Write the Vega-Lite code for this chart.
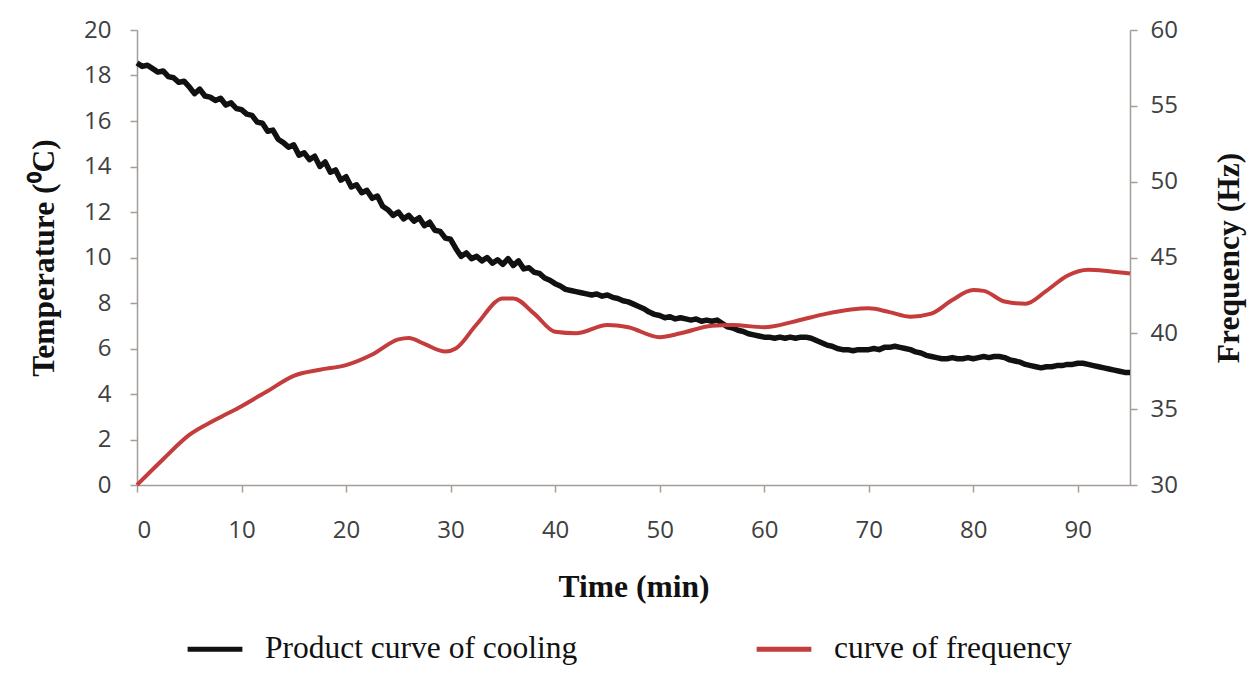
{
  "$schema": "https://vega.github.io/schema/vega-lite/v6.json",
  "autosize": {"type": "none"},
  "padding": {"left": 137, "top": 30, "right": 128, "bottom": 204},
  "width": 993,
  "height": 455,
  "background": "white",
  "config": {
    "view": {"stroke": null},
    "axis": {
      "grid": false,
      "domainColor": "#a59d98",
      "tickColor": "#a59d98",
      "domainWidth": 1.5,
      "tickWidth": 1.5,
      "tickSize": 7,
      "labelFont": "Open Sans",
      "labelFontSize": 24,
      "labelColor": "#404040",
      "titleFont": "Liberation Serif",
      "titleFontSize": 31.5,
      "titleFontWeight": "bold",
      "titleColor": "#111111"
    }
  },
  "datasets": {
    "temp": [
      {"time":0,"temperature":18.55},{"time":0.5,"temperature":18.4},{"time":1,"temperature":18.45},{"time":1.5,"temperature":18.3},{"time":2,"temperature":18.15},{"time":2.5,"temperature":18.2},{"time":3,"temperature":17.95},{"time":3.5,"temperature":17.9},{"time":4,"temperature":17.7},{"time":4.5,"temperature":17.75},{"time":5,"temperature":17.5},{"time":5.5,"temperature":17.2},{"time":6,"temperature":17.4},{"time":6.5,"temperature":17.1},{"time":7,"temperature":17.05},{"time":7.5,"temperature":16.9},{"time":8,"temperature":17.0},{"time":8.5,"temperature":16.7},{"time":9,"temperature":16.8},{"time":9.5,"temperature":16.55},{"time":10,"temperature":16.5},{"time":10.5,"temperature":16.3},{"time":11,"temperature":16.25},{"time":11.5,"temperature":15.95},{"time":12,"temperature":15.9},{"time":12.5,"temperature":15.55},{"time":13,"temperature":15.6},{"time":13.5,"temperature":15.2},{"time":14,"temperature":15.05},{"time":14.5,"temperature":14.85},{"time":15,"temperature":14.95},{"time":15.5,"temperature":14.5},{"time":16,"temperature":14.6},{"time":16.5,"temperature":14.3},{"time":17,"temperature":14.45},{"time":17.5,"temperature":14.0},{"time":18,"temperature":14.2},{"time":18.5,"temperature":13.75},{"time":19,"temperature":13.85},{"time":19.5,"temperature":13.4},{"time":20,"temperature":13.55},{"time":20.5,"temperature":13.1},{"time":21,"temperature":13.2},{"time":21.5,"temperature":12.85},{"time":22,"temperature":12.95},{"time":22.5,"temperature":12.6},{"time":23,"temperature":12.7},{"time":23.5,"temperature":12.25},{"time":24,"temperature":12.1},{"time":24.5,"temperature":11.85},{"time":25,"temperature":12.0},{"time":25.5,"temperature":11.7},{"time":26,"temperature":11.85},{"time":26.5,"temperature":11.6},{"time":27,"temperature":11.75},{"time":27.5,"temperature":11.4},{"time":28,"temperature":11.55},{"time":28.5,"temperature":11.2},{"time":29,"temperature":11.15},{"time":29.5,"temperature":10.85},{"time":30,"temperature":10.8},{"time":30.5,"temperature":10.4},{"time":31,"temperature":10.05},{"time":31.5,"temperature":10.2},{"time":32,"temperature":9.95},{"time":32.5,"temperature":10.05},{"time":33,"temperature":9.85},{"time":33.5,"temperature":10.0},{"time":34,"temperature":9.75},{"time":34.5,"temperature":9.9},{"time":35,"temperature":9.7},{"time":35.5,"temperature":9.95},{"time":36,"temperature":9.65},{"time":36.5,"temperature":9.85},{"time":37,"temperature":9.5},{"time":37.5,"temperature":9.55},{"time":38,"temperature":9.35},{"time":38.5,"temperature":9.3},{"time":39,"temperature":9.1},{"time":39.5,"temperature":9.0},{"time":40,"temperature":8.85},{"time":40.5,"temperature":8.75},{"time":41,"temperature":8.6},{"time":41.5,"temperature":8.55},{"time":42,"temperature":8.5},{"time":42.5,"temperature":8.45},{"time":43,"temperature":8.4},{"time":43.5,"temperature":8.35},{"time":44,"temperature":8.4},{"time":44.5,"temperature":8.3},{"time":45,"temperature":8.35},{"time":45.5,"temperature":8.25},{"time":46,"temperature":8.2},{"time":46.5,"temperature":8.1},{"time":47,"temperature":8.05},{"time":47.5,"temperature":7.95},{"time":48,"temperature":7.85},{"time":48.5,"temperature":7.75},{"time":49,"temperature":7.6},{"time":49.5,"temperature":7.5},{"time":50,"temperature":7.45},{"time":50.5,"temperature":7.35},{"time":51,"temperature":7.4},{"time":51.5,"temperature":7.3},{"time":52,"temperature":7.35},{"time":52.5,"temperature":7.3},{"time":53,"temperature":7.25},{"time":53.5,"temperature":7.3},{"time":54,"temperature":7.2},{"time":54.5,"temperature":7.25},{"time":55,"temperature":7.2},{"time":55.5,"temperature":7.25},{"time":56,"temperature":7.1},{"time":56.5,"temperature":6.95},{"time":57,"temperature":6.9},{"time":57.5,"temperature":6.8},{"time":58,"temperature":6.75},{"time":58.5,"temperature":6.65},{"time":59,"temperature":6.6},{"time":59.5,"temperature":6.55},{"time":60,"temperature":6.5},{"time":60.5,"temperature":6.5},{"time":61,"temperature":6.45},{"time":61.5,"temperature":6.5},{"time":62,"temperature":6.45},{"time":62.5,"temperature":6.5},{"time":63,"temperature":6.45},{"time":63.5,"temperature":6.5},{"time":64,"temperature":6.5},{"time":64.5,"temperature":6.45},{"time":65,"temperature":6.35},{"time":65.5,"temperature":6.25},{"time":66,"temperature":6.15},{"time":66.5,"temperature":6.1},{"time":67,"temperature":6.0},{"time":67.5,"temperature":5.95},{"time":68,"temperature":5.95},{"time":68.5,"temperature":5.9},{"time":69,"temperature":5.95},{"time":69.5,"temperature":5.95},{"time":70,"temperature":5.95},{"time":70.5,"temperature":6.0},{"time":71,"temperature":5.95},{"time":71.5,"temperature":6.05},{"time":72,"temperature":6.05},{"time":72.5,"temperature":6.1},{"time":73,"temperature":6.05},{"time":73.5,"temperature":6.0},{"time":74,"temperature":5.95},{"time":74.5,"temperature":5.85},{"time":75,"temperature":5.8},{"time":75.5,"temperature":5.7},{"time":76,"temperature":5.65},{"time":76.5,"temperature":5.6},{"time":77,"temperature":5.55},{"time":77.5,"temperature":5.55},{"time":78,"temperature":5.6},{"time":78.5,"temperature":5.55},{"time":79,"temperature":5.55},{"time":79.5,"temperature":5.6},{"time":80,"temperature":5.55},{"time":80.5,"temperature":5.6},{"time":81,"temperature":5.65},{"time":81.5,"temperature":5.6},{"time":82,"temperature":5.65},{"time":82.5,"temperature":5.65},{"time":83,"temperature":5.6},{"time":83.5,"temperature":5.5},{"time":84,"temperature":5.45},{"time":84.5,"temperature":5.4},{"time":85,"temperature":5.3},{"time":85.5,"temperature":5.25},{"time":86,"temperature":5.2},{"time":86.5,"temperature":5.15},{"time":87,"temperature":5.2},{"time":87.5,"temperature":5.2},{"time":88,"temperature":5.25},{"time":88.5,"temperature":5.25},{"time":89,"temperature":5.3},{"time":89.5,"temperature":5.3},{"time":90,"temperature":5.35},{"time":90.5,"temperature":5.35},{"time":91,"temperature":5.3},{"time":91.5,"temperature":5.25},{"time":92,"temperature":5.2},{"time":92.5,"temperature":5.15},{"time":93,"temperature":5.1},{"time":93.5,"temperature":5.05},{"time":94,"temperature":5.0},{"time":94.5,"temperature":4.95},{"time":95,"temperature":4.95}
    ],
    "freq": [
      {"time":0,"frequency":30.0},{"time":2.5,"frequency":31.7},{"time":5,"frequency":33.3},{"time":7.5,"frequency":34.3},{"time":10,"frequency":35.2},{"time":12.5,"frequency":36.2},{"time":15,"frequency":37.2},{"time":17.5,"frequency":37.6},{"time":20,"frequency":37.9},{"time":22.5,"frequency":38.6},{"time":25,"frequency":39.6},{"time":26,"frequency":39.7},{"time":27.5,"frequency":39.3},{"time":29.5,"frequency":38.8},{"time":30.5,"frequency":39.0},{"time":32.5,"frequency":40.6},{"time":35,"frequency":42.3},{"time":36,"frequency":42.3},{"time":38,"frequency":41.3},{"time":40,"frequency":40.1},{"time":42,"frequency":40.0},{"time":45,"frequency":40.55},{"time":47,"frequency":40.4},{"time":50,"frequency":39.75},{"time":52,"frequency":40.0},{"time":55,"frequency":40.5},{"time":57,"frequency":40.55},{"time":60,"frequency":40.4},{"time":63,"frequency":40.8},{"time":66,"frequency":41.3},{"time":70,"frequency":41.65},{"time":72,"frequency":41.4},{"time":74,"frequency":41.1},{"time":76,"frequency":41.3},{"time":78,"frequency":42.2},{"time":80,"frequency":42.85},{"time":81,"frequency":42.8},{"time":83,"frequency":42.1},{"time":85,"frequency":41.95},{"time":87,"frequency":42.8},{"time":89,"frequency":43.8},{"time":91,"frequency":44.2},{"time":93,"frequency":44.1},{"time":95,"frequency":43.95}
    ]
  },
  "layer": [
    {
      "data": {"name": "temp"},
      "mark": {"type": "line", "strokeWidth": 5.5, "strokeJoin": "round"},
      "encoding": {
        "x": {
          "field": "time", "type": "quantitative",
          "scale": {"domain": [0, 95], "nice": false, "zero": false},
          "axis": {"values": [0,10,20,30,40,50,60,70,80,90], "title": "Time (min)", "labelPadding": 26, "titlePadding": 29}
        },
        "y": {
          "field": "temperature", "type": "quantitative",
          "scale": {"domain": [0, 20], "nice": false},
          "axis": {"orient": "left", "values": [0,2,4,6,8,10,12,14,16,18,20], "title": "Temperature (⁰C)", "labelPadding": 19, "titlePadding": 23}
        },
        "color": {
          "datum": "Product curve of cooling", "type": "nominal",
          "scale": {"domain": ["Product curve of cooling", "curve of frequency"], "range": ["#111111", "#c43c3c"]},
          "legend": {
            "title": null, "orient": "none", "legendX": 48, "legendY": 589,
            "direction": "horizontal", "symbolType": "stroke", "symbolSize": 3000,
            "symbolStrokeWidth": 5, "labelFont": "Liberation Serif", "labelFontSize": 31.5,
            "labelColor": "#111111", "labelOffset": 20, "columnPadding": 168, "labelLimit": 0
          }
        }
      }
    },
    {
      "data": {"name": "freq"},
      "mark": {"type": "line", "interpolate": "monotone", "strokeWidth": 4},
      "encoding": {
        "x": {"field": "time", "type": "quantitative"},
        "y": {
          "field": "frequency", "type": "quantitative",
          "scale": {"domain": [30, 60], "nice": false, "zero": false},
          "axis": {"orient": "right", "values": [30,35,40,45,50,55,60], "title": "Frequency (Hz)", "titleAngle": -90, "labelPadding": 13, "titlePadding": 68}
        },
        "color": {"datum": "curve of frequency", "type": "nominal"}
      }
    }
  ],
  "resolve": {"scale": {"y": "independent"}}
}
